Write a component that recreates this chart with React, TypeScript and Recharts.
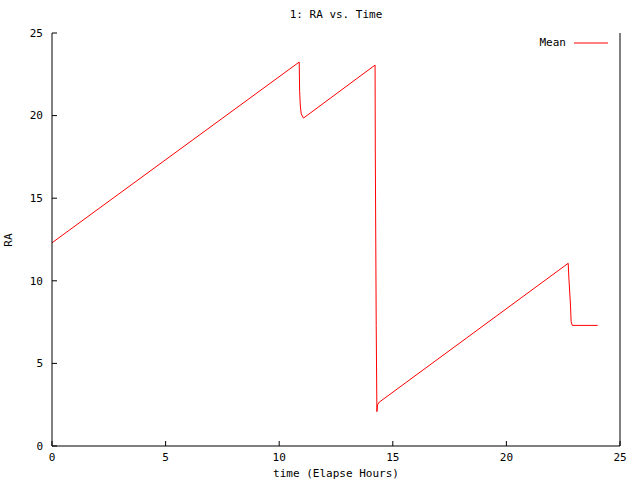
import React from "react";
import { LineChart, Line, XAxis, YAxis } from "recharts";

// elapsed hours and mean RA
const hours = [0, 10.88, 10.9, 10.93, 10.97, 11.07, 14.22, 14.23, 14.27, 14.3, 14.33, 14.4, 22.72, 22.75, 22.82, 22.85, 22.9, 24.02];
const meanRA = [12.3, 23.24, 21.45, 20.58, 20.1, 19.85, 23.06, 17.8, 7.3, 2.08, 2.5, 2.65, 11.06, 10.17, 8.53, 7.52, 7.3, 7.3];
const axisTicks = [0, 5, 10, 15, 20, 25];

const title = "1: RA vs. Time";
const xTitle = "time (Elapse Hours)";
const yTitle = "RA";
const seriesName = "Mean";

const FONT = "'DejaVu Sans Mono', monospace";
const TICK_LEN = 5;

const BottomTick = (props: any) => {
    const { x, y, payload } = props;
    const axisY = y - 11;
    return (
        <g>
            <line x1={x} y1={axisY} x2={x} y2={axisY - TICK_LEN} stroke="#000" />
            <text x={x} y={y} dy="0.35em" textAnchor="middle" fontFamily={FONT} fontSize={11} fill="#000">
                {payload.value}
            </text>
        </g>
    );
};

const TopTick = (props: any) => {
    const { x, y } = props;
    return <line x1={x} y1={y} x2={x} y2={y + TICK_LEN} stroke="#000" />;
};

const LeftTick = (props: any) => {
    const { x, y, payload } = props;
    const axisX = x + 9;
    return (
        <g>
            <line x1={axisX} y1={y} x2={axisX + TICK_LEN} y2={y} stroke="#000" />
            <text x={x} y={y} dy="0.35em" textAnchor="end" fontFamily={FONT} fontSize={11} fill="#000">
                {payload.value}
            </text>
        </g>
    );
};

const RightTick = (props: any) => {
    const { x, y } = props;
    return <line x1={x} y1={y} x2={x - TICK_LEN} y2={y} stroke="#000" />;
};

export default function App() {
    const data = hours.map((h, i) => ({ time: h, ra: meanRA[i] }));

    return (
        <div style={{ position: "absolute", left: 0, top: 0, width: 640, height: 480, background: "#fff", fontFamily: FONT, fontSize: 11 }}>
            <LineChart width={640} height={480} data={data} margin={{ top: 33, right: 0, bottom: 0, left: 0 }}>
                <XAxis
                    dataKey="time"
                    type="number"
                    domain={[0, 25]}
                    ticks={axisTicks}
                    height={34}
                    tickSize={0}
                    tickMargin={11}
                    axisLine={{ stroke: "#000" }}
                    tick={<BottomTick />}
                    label={{ value: xTitle, position: "insideBottom", offset: 3, fill: "#000", fontFamily: FONT, fontSize: 11 }}
                />
                <XAxis
                    xAxisId="top"
                    orientation="top"
                    type="number"
                    domain={[0, 25]}
                    ticks={axisTicks}
                    height={0}
                    tickSize={0}
                    tickMargin={0}
                    axisLine={{ stroke: "#000" }}
                    tick={<TopTick />}
                />
                <YAxis
                    type="number"
                    domain={[0, 25]}
                    ticks={axisTicks}
                    width={52}
                    tickSize={0}
                    tickMargin={9}
                    axisLine={{ stroke: "#000" }}
                    tick={<LeftTick />}
                />
                <YAxis
                    yAxisId="right"
                    orientation="right"
                    type="number"
                    domain={[0, 25]}
                    ticks={axisTicks}
                    width={20}
                    tickSize={0}
                    tickMargin={0}
                    axisLine={{ stroke: "#000" }}
                    tick={<RightTick />}
                />
                <Line
                    type="linear"
                    dataKey="ra"
                    stroke="#ff0000"
                    strokeWidth={1}
                    dot={false}
                    isAnimationActive={false}
                />
            </LineChart>

            <div style={{ position: "absolute", left: 0, width: 672, top: 8, textAlign: "center", lineHeight: "14px" }}>
                {title}
            </div>
            <div
                style={{
                    position: "absolute",
                    left: 9,
                    top: 240,
                    transform: "translate(-50%, -50%) rotate(-90deg)",
                    lineHeight: "14px",
                }}
            >
                {yTitle}
            </div>
            <div style={{ position: "absolute", right: 30, top: 36, display: "flex", alignItems: "center", lineHeight: "14px" }}>
                <span>{seriesName}</span>
                <svg width={44} height={14}>
                    <line x1={8} y1={7} x2={42} y2={7} stroke="#ff0000" />
                </svg>
            </div>
        </div>
    );
}
